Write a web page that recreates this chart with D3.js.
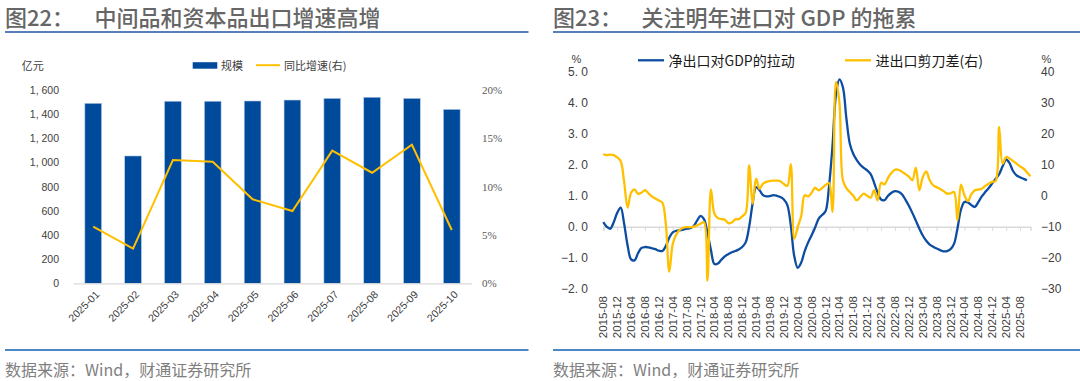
<!DOCTYPE html>
<html><head><meta charset="utf-8">
<script src="https://cdn.jsdelivr.net/npm/d3@7"></script>
<style>body{margin:0;background:#fff}svg{display:block}</style>
</head><body>
<svg id="c" width="1080" height="381"></svg>
<script>
// ---------- Left chart data ----------
const leftCategories = ["2025-01","2025-02","2025-03","2025-04","2025-05","2025-06","2025-07","2025-08","2025-09","2025-10"];
const leftScaleValues = [1490,1054,1507,1507,1509,1517,1531,1540,1531,1440];
const leftGrowthValues = [5.86,3.58,12.76,12.58,8.69,7.48,13.72,11.44,14.34,5.51];
const leftYTicks = [0,200,400,600,800,1000,1200,1400,1600];
const leftY2Ticks = [0,5,10,15,20];

// ---------- Right chart data ----------
const rightTickLabels = ["2015-08","2015-12","2016-04","2016-08","2016-12","2017-04","2017-08","2017-12","2018-04","2018-08","2018-12","2019-04","2019-08","2019-12","2020-04","2020-08","2020-12","2021-04","2021-08","2021-12","2022-04","2022-08","2022-12","2023-04","2023-08","2023-12","2024-04","2024-08","2024-12","2025-04","2025-08"];
const netExportContribution = [
 0.15, 0.00,-0.06, 0.15, 0.45, 0.62, 0.10,-0.60,-1.05,-1.08,
-0.85,-0.68,-0.65,-0.66,-0.69,-0.72,-0.77,-0.78,-0.62,-0.35,
-0.18,-0.13,-0.11,-0.09,-0.06,-0.04, 0.02, 0.20, 0.35, 0.25,
-0.20,-0.75,-1.20,-1.18,-1.06,-0.95,-0.88,-0.82,-0.78,-0.73,
-0.65,-0.50, 0.00, 0.75, 1.28, 1.18, 1.02, 0.98, 0.99, 1.02,
 1.00, 0.96, 0.88, 0.70, 0.05,-0.95,-1.32,-1.15,-0.78,-0.50,
-0.27,-0.02, 0.26, 0.38, 0.50, 1.30, 2.60, 4.25, 4.75, 4.50,
 3.50, 2.68, 2.35, 2.15, 2.00, 1.90, 1.82, 1.70, 1.42, 1.10,
 0.88, 0.86, 1.00, 1.10, 1.15, 1.13, 1.05, 0.88, 0.68, 0.45,
 0.20,-0.05,-0.28,-0.45,-0.57,-0.64,-0.70,-0.75,-0.79,-0.78,
-0.72,-0.55,-0.05, 0.55, 0.80, 0.79, 0.70, 0.64, 0.80, 0.98,
 1.12, 1.25, 1.40, 1.55, 1.70, 1.95, 2.17, 2.05, 1.80, 1.66,
 1.60, 1.55, 1.50];
const scissorsGap = [
 13.5, 13.1, 13.3, 13.1, 12.4, 11.2,  4.5, -3.8,  1.0,  2.1,
  0.6,  1.0,  1.8,  0.8, -0.2, -0.9, -1.5, -2.2, -9.0,-24.4,
-15.5,-12.5,-11.0,-10.3,-10.1,-10.1,-10.0, -9.5, -9.0, -8.5,
-27.3,  2.1, -5.8, -7.2, -7.5, -7.7, -8.8, -8.6, -7.6, -7.5,
 -6.6, -5.5,  9.8, -2.5,  5.5,  2.3,  3.9,  4.5,  4.8,  4.9,
  4.9,  4.7,  3.8,  3.2, 10.2,-13.8,-10.0, -6.5,  0.2, -0.2,
  1.0,  2.6,  1.8,  2.5,  3.5,  4.1, -5.2, 36.7, 30.0,  5.0,
  2.5,  1.2,  0.0, -1.5, -0.3,  0.7,  0.0, -0.6,  1.8, -1.5,
  4.2,  3.7,  5.8,  7.4,  8.4,  8.4,  7.8,  7.0,  6.2,  5.0,
  9.1,  1.8,  6.0,  7.9,  5.0,  3.4,  2.8,  2.2,  1.5,  0.7,
  0.8,  1.2, -7.9,  3.6,  0.2, -1.7,  0.5,  1.8,  2.0,  2.3,
  3.2,  3.9,  4.5,  4.8, 22.2, 10.4, 12.5, 12.0, 11.2, 10.4,
  9.5,  8.8,  7.6,  6.3];
const rightYTicks = [-2,-1,0,1,2,3,4,5];
const rightY2Ticks = [-30,-20,-10,0,10,20,30,40];

// ---------- common ----------
const svg = d3.select("#c");
const CJK = "'Noto Sans CJK SC','Noto Sans',sans-serif";
const SANS = "'Liberation Sans',Arial,'Noto Sans CJK SC',sans-serif";
const SERIF = "'Liberation Serif','Times New Roman',serif";
const BLUE = "#004a9c", GOLD = "#ffc000";

function header(x0, x1, label, title, titleX) {
  svg.append("text").attr("x", x0).attr("y", 16).attr("dominant-baseline","central")
    .style("font-family", CJK).style("font-size","22px").style("font-weight","500").attr("fill","#666666").text(label);
  svg.append("text").attr("x", titleX).attr("y", 16).attr("dominant-baseline","central")
    .style("font-family", CJK).style("font-size","22px").style("font-weight","500").attr("fill","#666666").text(title);
  svg.append("line").attr("x1", x0).attr("x2", x1).attr("y1", 32).attr("y2", 32)
    .attr("stroke","#1f56a5").attr("stroke-width",1.5);
  svg.append("line").attr("x1", x0).attr("x2", x1).attr("y1", 350).attr("y2", 350)
    .attr("stroke","#4f86c6").attr("stroke-width",2);
  svg.append("text").attr("x", x0).attr("y", 369).attr("dominant-baseline","central")
    .style("font-family", CJK).style("font-size","16px").attr("fill","#7f7f7f").text("数据来源：Wind，财通证券研究所");
}
header(5, 528.5, "图22：", "中间品和资本品出口增速高增", 94.5);
header(553, 1080, "图23：", "关注明年进口对 GDP 的拖累", 641.5);

// ---------- Left chart ----------
const L = svg.append("g");
const xL = d3.scaleBand().domain(leftCategories).range([73.3, 471.7]).paddingInner(0.58).paddingOuter(0.29);
const yL = d3.scaleLinear().domain([0,1600]).range([283.3, 90]);
const yL2 = d3.scaleLinear().domain([0,20]).range([283.3, 90]);

L.selectAll("rect.bar").data(leftScaleValues).join("rect").attr("class","bar")
  .attr("x",(d,i)=>xL(leftCategories[i])).attr("width", xL.bandwidth())
  .attr("y", d=>yL(d)).attr("height", d=>yL(0)-yL(d))
  .attr("fill", BLUE).attr("stroke","#b9cdec").attr("stroke-width",0.6);

const axL = L.append("g").attr("transform",`translate(0,${yL(0)})`)
  .call(d3.axisBottom(xL).tickSize(0).tickFormat(""));
axL.select(".domain").attr("stroke","#d9d9d9").attr("stroke-width",1.3);
L.append("g").selectAll("text").data(leftCategories).join("text")
  .attr("transform", d=>`translate(${xL(d)+xL.bandwidth()/2+4},${yL(0)+9}) rotate(-45)`)
  .attr("text-anchor","end").attr("dominant-baseline","central")
  .style("font-family", SANS).style("font-size","10.5px").attr("fill","#404040").text(d=>d);

const ayL = L.append("g").attr("transform","translate(62,0)")
  .call(d3.axisLeft(yL).tickValues(leftYTicks).tickSize(0).tickPadding(3)
    .tickFormat(d=>d3.format(",")(d).replace(",", ", ")));
ayL.select(".domain").remove();
ayL.selectAll("text").style("font-family", SANS).style("font-size","10.5px").attr("fill","#404040");
const ayL2 = L.append("g").attr("transform","translate(478,0)")
  .call(d3.axisRight(yL2).tickValues(leftY2Ticks).tickSize(0).tickPadding(4).tickFormat(d=>d+"%"));
ayL2.select(".domain").remove();
ayL2.selectAll("text").style("font-family", SERIF).style("font-size","11px").attr("fill","#595959");

L.append("path").datum(leftGrowthValues)
  .attr("d", d3.line().x((d,i)=>xL(leftCategories[i])+xL.bandwidth()/2).y(d=>yL2(d)))
  .attr("fill","none").attr("stroke",GOLD).attr("stroke-width",2);

L.append("text").attr("x",21.7).attr("y",64.5).attr("dominant-baseline","central")
  .style("font-family", CJK).style("font-size","11px").attr("fill","#404040").text("亿元");
L.append("rect").attr("x",192.7).attr("y",62.2).attr("width",24.6).attr("height",6.5).attr("fill",BLUE);
L.append("text").attr("x",221).attr("y",65).attr("dominant-baseline","central")
  .style("font-family", CJK).style("font-size","11px").attr("fill","#404040").text("规模");
L.append("line").attr("x1",256).attr("x2",280).attr("y1",65.2).attr("y2",65.2).attr("stroke",GOLD).attr("stroke-width",2);
L.append("text").attr("x",284).attr("y",65).attr("dominant-baseline","central")
  .style("font-family", CJK).style("font-size","11px").attr("fill","#404040").text("同比增速(右)");

// ---------- Right chart ----------
const R = svg.append("g");
const months = d3.timeMonth.range(new Date(2015,7,1), new Date(2025,11,1)).map(d3.timeFormat("%Y-%m"));
const xR = d3.scalePoint().domain(months).range([603.3, 1030.4]);
const yR = d3.scaleLinear().domain([-2,5]).range([288.9, 71.7]);
const yR2 = d3.scaleLinear().domain([-30,40]).range([288.9, 71.7]);

const axR = R.append("g").attr("transform",`translate(0,${yR(0)})`)
  .call(d3.axisBottom(xR).tickValues(rightTickLabels).tickSize(4).tickFormat(""));
axR.select(".domain").attr("stroke","#d9d9d9").attr("stroke-width",1.5);
axR.selectAll(".tick line").attr("stroke","#d9d9d9").attr("stroke-width",1);

R.append("g").selectAll("text").data(rightTickLabels).join("text")
  .attr("transform", d=>`translate(${xR(d)},296) rotate(-90)`)
  .attr("text-anchor","end").attr("dominant-baseline","central")
  .style("font-family", SANS).style("font-size","11.5px").attr("fill","#404040").text(d=>d);

const ayR = R.append("g").attr("transform","translate(588,0)")
  .call(d3.axisLeft(yR).tickValues(rightYTicks).tickSize(0).tickPadding(0)
    .tickFormat(d=>d3.format(".1f")(d).replace(".", ". ").replace("-", "−")));
ayR.select(".domain").remove();
ayR.selectAll("text").style("font-family", SANS).style("font-size","12px").attr("fill","#404040");

const ayR2 = R.append("g").attr("transform","translate(1041,0)")
  .call(d3.axisRight(yR2).tickValues(rightY2Ticks).tickSize(0).tickPadding(0)
    .tickFormat(d=>String(d).replace("-", "−")));
ayR2.select(".domain").remove();
ayR2.selectAll("text").style("font-family", SANS).style("font-size","12px").attr("fill","#404040");

R.append("text").attr("x",576.5).attr("y",59).attr("text-anchor","middle").attr("dominant-baseline","central")
  .style("font-family", SANS).style("font-size","11px").attr("fill","#404040").text("%");
R.append("text").attr("x",1046.5).attr("y",59).attr("text-anchor","middle").attr("dominant-baseline","central")
  .style("font-family", SANS).style("font-size","11px").attr("fill","#404040").text("%");

const curve = d3.curveCatmullRom.alpha(0.5);
R.append("path").datum(netExportContribution)
  .attr("d", d3.line().curve(curve).x((d,i)=>xR(months[i])).y(d=>yR(d)))
  .attr("fill","none").attr("stroke","#0c4da2").attr("stroke-width",2.3);
R.append("path").datum(scissorsGap)
  .attr("d", d3.line().curve(curve).x((d,i)=>xR(months[i])).y(d=>yR2(d)))
  .attr("fill","none").attr("stroke",GOLD).attr("stroke-width",2.3);

R.append("line").attr("x1",638).attr("x2",664).attr("y1",60.3).attr("y2",60.3).attr("stroke","#0c4da2").attr("stroke-width",2.3);
R.append("text").attr("x",668.5).attr("y",60.3).attr("dominant-baseline","central")
  .style("font-family", CJK).style("font-size","14px").attr("fill","#1a1a1a").text("净出口对GDP的拉动");
R.append("line").attr("x1",845).attr("x2",871).attr("y1",60.3).attr("y2",60.3).attr("stroke",GOLD).attr("stroke-width",2.3);
R.append("text").attr("x",875.5).attr("y",60.3).attr("dominant-baseline","central")
  .style("font-family", CJK).style("font-size","14px").attr("fill","#1a1a1a").text("进出口剪刀差(右)");
</script>
</body></html>
